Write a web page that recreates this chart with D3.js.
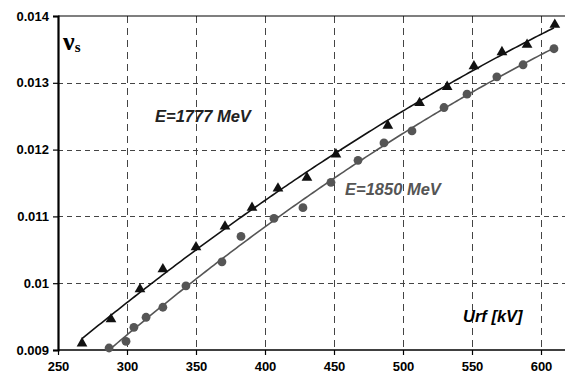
<!DOCTYPE html>
<html>
<head>
<meta charset="utf-8">
<script src="https://cdn.jsdelivr.net/npm/d3@7"></script>
<style>
  body { margin: 0; background: #fff; }
  svg { display: block; font-family: Arial, "Liberation Sans", sans-serif; }
</style>
</head>
<body>
<svg id="chart" width="565" height="377"></svg>
<script>
// E=1777 MeV (triangles)
const urf1777 = [267.4, 288.4, 309.4, 326, 350, 371, 390.6, 409.4, 430.4, 451.4, 489, 512, 532, 551.4, 571.7, 589.9, 610];
const nu1777 = [0.00910, 0.00946, 0.00991, 0.01021, 0.01054, 0.01085, 0.01113, 0.01142, 0.01158, 0.01193, 0.01236, 0.01270, 0.01294, 0.01325, 0.01346, 0.01357, 0.01387];
// E=1850 MeV (circles)
const urf1850 = [287, 299.3, 305, 313.8, 326, 342.7, 368.8, 382.6, 406.5, 427.5, 447.8, 467.4, 486.2, 506.5, 529.7, 546.4, 568, 587, 609.4];
const nu1850 = [0.00903, 0.00913, 0.00934, 0.00949, 0.00964, 0.00996, 0.01032, 0.01070, 0.01097, 0.01113, 0.01151, 0.01184, 0.01210, 0.01228, 0.01263, 0.01283, 0.01309, 0.01327, 0.01351];

const xTicks = [250, 300, 350, 400, 450, 500, 550, 600];
const yTicks = [0.009, 0.010, 0.011, 0.012, 0.013, 0.014];
const yTickLabels = ['0.009', '0.01', '0.011', '0.012', '0.013', '0.014'];

const svg = d3.select('#chart');
const x = d3.scaleLinear().domain([250, 600]).range([58, 541]);
const y = d3.scaleLinear().domain([0.009, 0.014]).range([350, 16]);
const xEnd = x(620);

// quadratic least-squares trend line
function quadFit(xs, ys) {
    let s = [0, 0, 0, 0, 0], t = [0, 0, 0];
    xs.forEach((xv, i) => {
        const u = xv / 100;
        for (let k = 0; k < 5; k++) s[k] += Math.pow(u, k);
        for (let k = 0; k < 3; k++) t[k] += ys[i] * Math.pow(u, k);
    });
    const A = [[s[0], s[1], s[2], t[0]], [s[1], s[2], s[3], t[1]], [s[2], s[3], s[4], t[2]]];
    for (let i = 0; i < 3; i++) {
        for (let j = i + 1; j < 3; j++) {
            const f = A[j][i] / A[i][i];
            for (let k = i; k < 4; k++) A[j][k] -= f * A[i][k];
        }
    }
    const c = [0, 0, 0];
    for (let i = 2; i >= 0; i--) {
        let v = A[i][3];
        for (let k = i + 1; k < 3; k++) v -= A[i][k] * c[k];
        c[i] = v / A[i][i];
    }
    return xv => c[0] + c[1] * (xv / 100) + c[2] * (xv / 100) * (xv / 100);
}

// grid
const grid = svg.append('g').attr('stroke', '#444').attr('stroke-width', 1);
grid.selectAll('line.v').data(xTicks.slice(1)).enter().append('line')
    .attr('x1', d => Math.round(x(d)) + 0.5).attr('x2', d => Math.round(x(d)) + 0.5)
    .attr('y1', y(0.014)).attr('y2', y(0.009))
    .attr('stroke-dasharray', '7,5');
grid.selectAll('line.h').data(yTicks.slice(1, -1)).enter().append('line')
    .attr('x1', x(250)).attr('x2', xEnd)
    .attr('y1', d => Math.round(y(d)) + 0.5).attr('y2', d => Math.round(y(d)) + 0.5)
    .attr('stroke-dasharray', '5,4');

// top border
svg.append('line').attr('x1', x(250)).attr('x2', xEnd)
    .attr('y1', y(0.014)).attr('y2', y(0.014)).attr('stroke', '#000').attr('stroke-width', 1.2);

// axes
const yAxis = svg.append('g').attr('transform', `translate(${x(250)},0)`)
    .call(d3.axisLeft(y).tickValues(yTicks).tickFormat((d, i) => yTickLabels[i]).tickSize(5).tickPadding(4));
yAxis.select('.domain').attr('stroke', '#000').attr('stroke-width', 2.2);
yAxis.selectAll('.tick line').attr('stroke', '#000').attr('stroke-width', 1.2);
yAxis.selectAll('text').attr('font-size', 13).attr('font-weight', 'bold').attr('fill', '#000')
    .attr('font-family', 'Arial, "Liberation Sans", sans-serif');

const xAxis = svg.append('g').attr('transform', `translate(0,${y(0.009)})`)
    .call(d3.axisBottom(x).tickValues(xTicks).tickSize(5).tickPadding(7));
xAxis.select('.domain').remove();
svg.append('line').attr('x1', x(250)).attr('x2', xEnd)
    .attr('y1', y(0.009)).attr('y2', y(0.009)).attr('stroke', '#000').attr('stroke-width', 1.5);
xAxis.selectAll('.tick line').attr('stroke', '#000').attr('stroke-width', 1.2);
xAxis.selectAll('text').attr('font-size', 13).attr('font-weight', 'bold').attr('fill', '#000')
    .attr('font-family', 'Arial, "Liberation Sans", sans-serif');

// trend lines
const line = d3.line().x(d => x(d[0])).y(d => y(d[1]));
function drawFit(xs, ys, color) {
    const f = quadFit(xs, ys);
    const pts = d3.range(xs[0], d3.max(xs) + 0.01, 2).map(v => [v, f(v)]);
    svg.append('path').datum(pts).attr('d', line)
        .attr('fill', 'none').attr('stroke', color).attr('stroke-width', 1.6);
}
drawFit(urf1777, nu1777, '#111');
drawFit(urf1850, nu1850, '#555');

// markers
const tri = d3.symbol().type(d3.symbolTriangle).size(50);
svg.append('g').selectAll('path').data(urf1777).enter().append('path')
    .attr('d', tri)
    .attr('transform', (d, i) => `translate(${x(d)},${y(nu1777[i])})`)
    .attr('fill', '#111');
svg.append('g').selectAll('circle').data(urf1850).enter().append('circle')
    .attr('cx', d => x(d)).attr('cy', (d, i) => y(nu1850[i]))
    .attr('r', 4.4).attr('fill', '#555');

// labels
svg.append('text').attr('x', 155).attr('y', 122)
    .attr('font-size', 16.5).attr('font-weight', 'bold').attr('font-style', 'italic').attr('fill', '#222')
    .text('E=1777 MeV');
svg.append('text').attr('x', 345).attr('y', 195)
    .attr('font-size', 16.5).attr('font-weight', 'bold').attr('font-style', 'italic').attr('fill', '#555')
    .text('E=1850 MeV');
svg.append('text').attr('x', 463).attr('y', 322)
    .attr('font-size', 16.5).attr('font-weight', 'bold').attr('font-style', 'italic').attr('fill', '#000')
    .text('Urf [kV]');
const nu = svg.append('text').attr('x', 63).attr('y', 50)
    .attr('font-family', '"Liberation Serif", "DejaVu Serif", serif').attr('fill', '#000');
nu.append('tspan').attr('font-size', 26).attr('font-weight', 'bold').text('ν');
nu.append('tspan').attr('font-size', 15).attr('font-weight', 'bold').attr('dy', 2).text('s');
</script>
</body>
</html>
